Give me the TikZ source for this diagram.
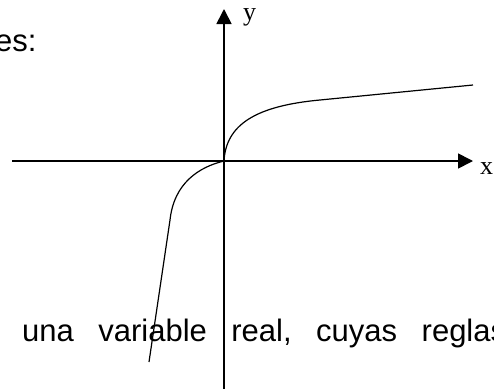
\documentclass[tikz,border=0pt]{standalone}
\usepackage{fontspec}
\setmainfont{Liberation Sans}
\newfontfamily\axisfont{Liberation Serif}
\usetikzlibrary{arrows.meta}
\begin{document}
\begin{tikzpicture}[x=1pt,y=-1pt,every node/.style={inner sep=0pt,anchor=base west},
  axis/.style={line width=1.7pt,-{Triangle[length=15pt,width=15pt]}},
  curve/.style={line width=1.2pt},
  textline/.style={font=\fontsize{31}{36}\selectfont},
  axislabel/.style={font=\axisfont\fontsize{26}{30}\selectfont}]
\useasboundingbox (0,0) rectangle (494,388);
\clip (0,0) rectangle (494,388);
\coordinate (O) at (224,161);
\coordinate (xstart) at (12,161);\coordinate (xtip) at (473,161);
\coordinate (ybottom) at (224,392);\coordinate (ytip) at (224,9);
\coordinate (bend) at (320,100);\coordinate (rightend) at (473,85);
\coordinate (knee) at (170,220);\coordinate (leftend) at (149,362);
\node[textline] (intro) at (-5,51) {es:};
\node[textline] (body) at (22,341) {\hbox to 484pt{una\hfill variable\hfill real,\hfill cuyas\hfill reglas}};
\node[axislabel] (ylabel) at (243,20.5) {y};
\node[axislabel] (xlabel) at (480,174) {x};
\draw[axis] (xstart)--(xtip);\draw[axis] (ybottom)--(ytip);
\draw[curve] (O) .. controls (226,125) and (255,106) .. (bend) -- (rightend);
\draw[curve] (O) .. controls (199,167) and (174,183) .. (knee) -- (leftend);
\end{tikzpicture}
\end{document}
